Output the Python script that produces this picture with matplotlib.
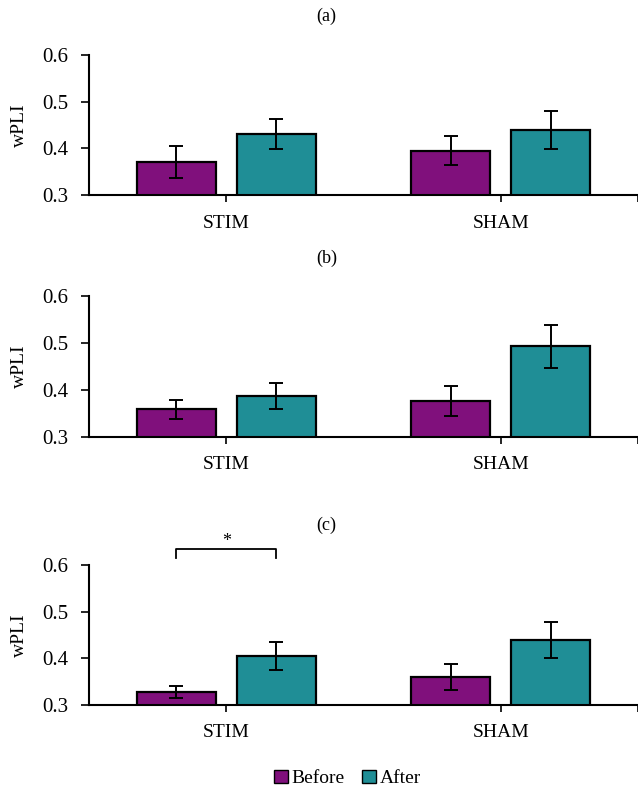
import numpy as np
import matplotlib
matplotlib.use("Agg")
import matplotlib.pyplot as plt
from matplotlib.patches import Patch

plt.rcParams['font.family'] = ['Liberation Serif', 'DejaVu Serif']

# data
groups = ['STIM', 'SHAM']
series = ['Before', 'After']
panels = ['(a)', '(b)', '(c)']
before = [[0.372, 0.395], [0.358, 0.375], [0.327, 0.360]]
after = [[0.431, 0.439], [0.386, 0.492], [0.405, 0.439]]
before_err = [[0.034, 0.031], [0.021, 0.032], [0.013, 0.028]]
after_err = [[0.032, 0.040], [0.028, 0.046], [0.030, 0.038]]

c_before = '#80107C'
c_after = '#1F8E96'

fig = plt.figure(figsize=(6.38, 7.87), dpi=100)

# axes boxes [left, bottom, width, height]
boxes = [[0.1395, 0.7518, 0.8605, 0.1787],
         [0.1395, 0.4451, 0.8605, 0.1792],
         [0.1395, 0.1046, 0.8605, 0.1771]]
title_y = [0.979, 0.672, 0.332]

x = np.arange(len(groups)) + 0.5
w = 0.288
off = 0.1825
ekw = dict(ecolor='black', elinewidth=1.4, capsize=5, capthick=1.4)

axes = []
for i, box in enumerate(boxes):
    ax = fig.add_axes(box)
    axes.append(ax)
    ax.bar(x - off, before[i], w, color=c_before, edgecolor='black', linewidth=1.6,
           yerr=before_err[i], error_kw=ekw)
    ax.bar(x + off, after[i], w, color=c_after, edgecolor='black', linewidth=1.6,
           yerr=after_err[i], error_kw=ekw)
    ax.set_xlim(0, 2)
    ax.set_ylim(0.3, 0.6)
    ax.set_yticks([0.3, 0.4, 0.5, 0.6])
    ax.set_yticklabels(['0.3', '0.4', '0.5', '0.6'], fontsize=15)
    ax.set_xticks(x)
    ax.set_xticks([2.0], minor=True)
    ax.set_xticklabels(groups, fontsize=14)
    ax.tick_params(axis='x', which='both', direction='out', length=5, width=1.2, pad=9)
    ax.tick_params(axis='y', direction='out', length=6, width=1.2, pad=9)
    for s in ['top', 'right']:
        ax.spines[s].set_visible(False)
    for s in ['left', 'bottom']:
        ax.spines[s].set_linewidth(1.5)
    ax.set_ylabel('wPLI', fontsize=14)
    ax.yaxis.set_label_coords(-0.112, 0.5)
    fig.text(0.512, title_y[i], panels[i], fontsize=13, ha='center', va='center')

# significance bracket in panel (c)
axc = axes[2]
x1, x2 = x[0] - off, x[0] + off
axc.plot([x1, x1, x2, x2], [0.616, 0.635, 0.635, 0.616], color='black', lw=1.3, clip_on=False)
axc.text(x[0], 0.632, '*', ha='center', va='bottom', fontsize=13, clip_on=False)

handles = [Patch(facecolor=c_before, edgecolor='black', label='Before'),
           Patch(facecolor=c_after, edgecolor='black', label='After')]
fig.legend(handles=handles, loc='center', bbox_to_anchor=(0.545, 0.011), ncol=2, frameon=False,
           fontsize=14, handlelength=0.7, handleheight=0.7, handletextpad=0.2, columnspacing=0.9,
           borderpad=0)

fig.savefig('out.png', dpi=100)
